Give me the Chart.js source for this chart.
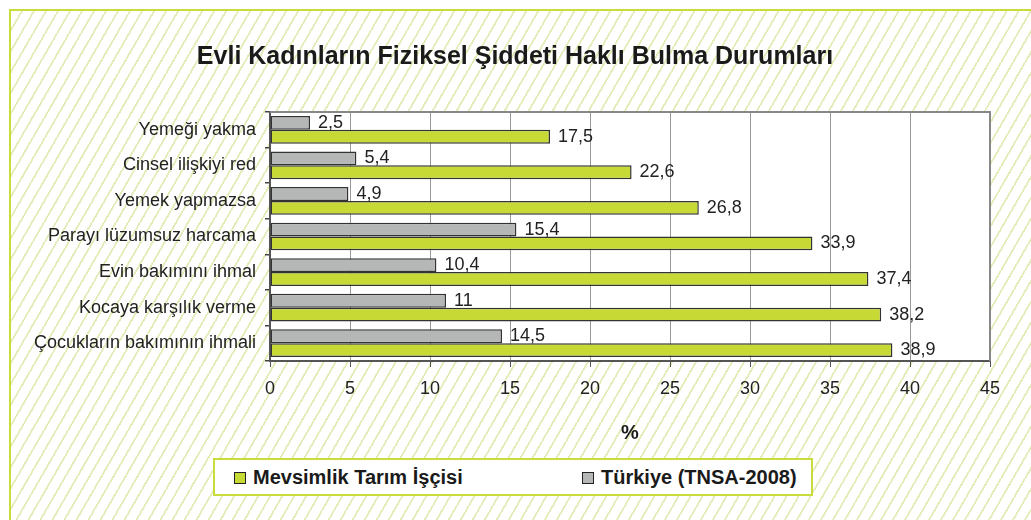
<!DOCTYPE html>
<html>
<head>
<meta charset="utf-8">
<script src="https://cdn.jsdelivr.net/npm/chart.js@4.4.0/dist/chart.umd.min.js"></script>
<style>
  html, body { margin:0; padding:0; width:1031px; height:520px; overflow:hidden; background:#fff; font-family:"Liberation Sans", Arial, sans-serif; }
  #frame { position:absolute; left:9px; top:9px; width:1100px; height:600px;
    border-top:2px solid #c8dc3c; border-left:2px solid #c8dc3c; box-sizing:border-box;
    background: repeating-linear-gradient(120deg, #ffffff 0px, #ffffff 8.6px, #e3edb9 8.6px, #e3edb9 10.4px); }
  #wrap { position:absolute; left:0; top:0; width:1031px; height:520px; }
  #legend { position:absolute; left:213px; top:458px; width:600px; height:38px; box-sizing:border-box;
    border:2px solid #c8dc3c; background:#fff; font-weight:bold; font-size:20px; color:#1a1a1a; }
  .item { position:absolute; top:6px; display:flex; align-items:center; white-space:nowrap; }
  .sw { width:10px; height:10px; border:1.5px solid #222; margin-right:7px; }
</style>
</head>
<body>
<div id="frame"></div>
<div id="wrap"><canvas id="c" width="1031" height="520"></canvas></div>
<div id="legend">
  <div class="item" style="left:19px"><span class="sw" style="background:#c6d935"></span><span id="l1"></span></div>
  <div class="item" style="left:367px"><span class="sw" style="background:#b5b7b7"></span><span id="l2"></span></div>
</div>
<script>
const categories = ["Yemeği yakma", "Cinsel ilişkiyi red", "Yemek yapmazsa", "Parayı lüzumsuz harcama", "Evin bakımını ihmal", "Kocaya karşılık verme", "Çocukların bakımının ihmali"];
const seriesNames = ["Türkiye (TNSA-2008)", "Mevsimlik Tarım İşçisi"];
const turkiye = [2.5, 5.4, 4.9, 15.4, 10.4, 11, 14.5];
const mevsimlik = [17.5, 22.6, 26.8, 33.9, 37.4, 38.2, 38.9];
const xTicks = [0, 5, 10, 15, 20, 25, 30, 35, 40, 45];
const titleText = "Evli Kadınların Fiziksel Şiddeti Haklı Bulma Durumları";
const axisTitle = "%";

document.getElementById('l1').textContent = seriesNames[1];
document.getElementById('l2').textContent = seriesNames[0];

const FONT = "'Liberation Sans', Arial, sans-serif";

const bgPlugin = {
  id: 'bg',
  afterLayout(chart) {
    const t = chart.titleBlock;
    if (t) { t.left += 20; t.right += 20; }
  },
  beforeDraw(chart) {
    const {ctx, chartArea: a} = chart;
    ctx.save(); ctx.fillStyle = '#fff';
    ctx.fillRect(a.left, a.top, a.right - a.left, a.bottom - a.top);
    ctx.restore();
  },
  afterDatasetsDraw(chart) {
    const {ctx, chartArea: a} = chart;
    ctx.save();
    ctx.strokeStyle = '#888'; ctx.lineWidth = 2;
    ctx.beginPath();
    ctx.moveTo(a.left, a.top); ctx.lineTo(a.right, a.top); ctx.lineTo(a.right, a.bottom);
    ctx.stroke();
    ctx.font = "18px " + FONT; ctx.fillStyle = '#222'; ctx.textBaseline = 'middle'; ctx.textAlign = 'left';
    chart.data.datasets.forEach((ds, i) => {
      chart.getDatasetMeta(i).data.forEach((bar, j) => {
        ctx.fillText(String(ds.data[j]).replace('.', ','), bar.x + 8, bar.y);
      });
    });
    ctx.restore();
  }
};

new Chart(document.getElementById('c'), {
  type: 'bar',
  data: {
    labels: categories,
    datasets: [
      { label: seriesNames[0], data: turkiye, backgroundColor: '#b5b7b7', borderColor: '#333', borderWidth: 1.5, borderSkipped: false },
      { label: seriesNames[1], data: mevsimlik, backgroundColor: '#c6d935', borderColor: '#333', borderWidth: 1.5, borderSkipped: false }
    ]
  },
  options: {
    indexAxis: 'y',
    responsive: false,
    animation: false,
    devicePixelRatio: 1,
    categoryPercentage: 0.78,
    barPercentage: 1.0,
    layout: { padding: { top: 0, right: 41, left: 0, bottom: 0 } },
    plugins: {
      legend: { display: false },
      tooltip: { enabled: false },
      title: { display: true, text: titleText, color: '#1a1a1a',
        font: { family: FONT, size: 25, weight: 'bold' }, padding: { top: 42, bottom: 40 } }
    },
    scales: {
      x: {
        min: 0, max: 45,
        afterBuildTicks(s) { s.ticks = xTicks.map(v => ({ value: v })); },
        afterFit(s) { s.height = 159; },
        grid: { color: '#999', lineWidth: 1, tickLength: 6, tickColor: '#555' },
        border: { color: '#555', width: 2 },
        ticks: { color: '#222', font: { family: FONT, size: 18 }, padding: 11 },
        title: { display: true, text: axisTitle, color: '#1a1a1a', font: { family: FONT, size: 20, weight: 'bold' }, padding: { top: 14, bottom: 75 } }
      },
      y: {
        afterFit(s) { s.width = 270; },
        grid: { offset: true, drawOnChartArea: false, drawTicks: true, tickLength: 5, tickColor: '#444', lineWidth: 1.5 },
        border: { color: '#555', width: 2 },
        ticks: { color: '#222', font: { family: FONT, size: 18 }, padding: 9 }
      }
    }
  },
  plugins: [bgPlugin]
});
</script>
</body>
</html>
